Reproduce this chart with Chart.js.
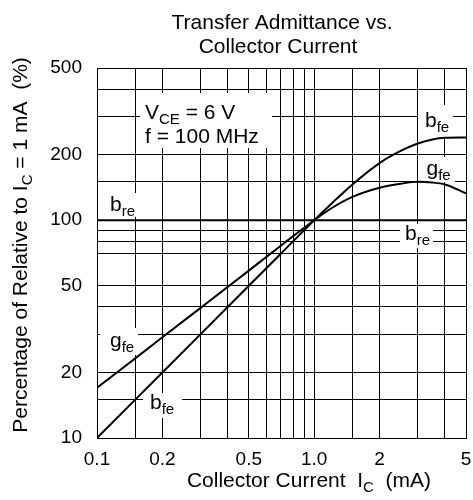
<!DOCTYPE html>
<html>
<head>
<meta charset="utf-8">
<script src="https://cdn.jsdelivr.net/npm/chart.js@4.4.1/dist/chart.umd.min.js"></script>
<style>
  html, body { margin: 0; padding: 0; background: #fff; }
  canvas { display: block; }
</style>
</head>
<body>
<canvas id="chart" width="473" height="500"></canvas>
<script>
// collector current (mA) and percentage relative to Ic = 1 mA
const current = [0.1, 0.15, 0.2, 0.3, 0.5, 0.7, 1.0, 1.2, 1.5, 2, 2.5, 3, 3.5, 4, 5];
const bfe = [10, 15, 20, 30, 50, 70, 100, 119, 146, 183, 208, 225, 235, 239, 240];
const gfe = [17, 23.2, 29, 39.6, 58.7, 76.2, 100, 113.5, 128, 141, 147, 150, 149, 146, 133];
const breCurrent = [0.1, 5];
const bre = [100, 100];

// grid lines and tick labels
const xGrid = [0.1, 0.15, 0.2, 0.3, 0.4, 0.5, 0.6, 0.7, 0.8, 0.9, 1, 1.5, 2, 3, 4, 5];
const xLabels = { 0.1: '0.1', 0.2: '0.2', 0.5: '0.5', 1: '1.0', 2: '2', 5: '5' };
const yGrid = [10, 15, 20, 30, 40, 50, 70, 80, 90, 100, 150, 200, 300, 400, 500];
const yLabels = [10, 20, 50, 100, 200, 500];

const FONT = "'Liberation Sans', Arial, sans-serif";

const toPoints = (xs, ys) => xs.map((x, i) => ({ x: x, y: ys[i] }));

// draws text with subscript parts, returns width
function drawParts(ctx, parts, x, y, size, align) {
  const subSize = Math.round(size * 0.72);
  let total = 0;
  parts.forEach(p => {
    ctx.font = (p[1] ? subSize : size) + 'px ' + FONT;
    total += ctx.measureText(p[0]).width;
  });
  let cx = x;
  if (align === 'center') cx = x - total / 2;
  ctx.textAlign = 'left';
  ctx.textBaseline = 'alphabetic';
  parts.forEach(p => {
    ctx.font = (p[1] ? subSize : size) + 'px ' + FONT;
    ctx.fillText(p[0], cx, p[1] ? y + 5 : y);
    cx += ctx.measureText(p[0]).width;
  });
  return total;
}

const textPlugin = {
  id: 'texts',
  beforeDatasetsDraw(chart) {
    const ctx = chart.ctx;
    ctx.save();
    // white backgrounds that break the grid behind labels
    ctx.fillStyle = '#fff';
    [[140, 93, 132, 55], [418, 105, 35, 34], [420, 157, 35, 25], [400, 224, 33, 24],
     [105, 193, 32, 24], [100, 328, 38, 27], [143, 393, 39, 25]].forEach(r => ctx.fillRect(r[0], r[1], r[2], r[3]));
    ctx.fillStyle = '#000';
    drawParts(ctx, [['V', 0], ['CE', 1], [' = 6 V', 0]], 145, 119, 21);
    drawParts(ctx, [['f = 100 MHz', 0]], 145, 142.5, 21);
    drawParts(ctx, [['b', 0], ['fe', 1]], 425, 126.5, 21);
    drawParts(ctx, [['g', 0], ['fe', 1]], 426.5, 174.5, 21);
    drawParts(ctx, [['b', 0], ['re', 1]], 405, 240, 21);
    drawParts(ctx, [['b', 0], ['re', 1]], 110, 210.5, 21);
    drawParts(ctx, [['g', 0], ['fe', 1]], 110, 346.5, 21);
    drawParts(ctx, [['b', 0], ['fe', 1]], 150, 409, 21);
    ctx.restore();
  },
  afterDraw(chart) {
    const ctx = chart.ctx;
    ctx.save();
    ctx.fillStyle = '#000';
    drawParts(ctx, [['Transfer Admittance vs.', 0]], 282, 28.5, 21, 'center');
    drawParts(ctx, [['Collector Current', 0]], 278, 52.5, 21, 'center');
    drawParts(ctx, [['Collector Current  I', 0], ['C', 1], ['  (mA)', 0]], 309, 486.5, 21, 'center');
    ctx.translate(27, 245);
    ctx.rotate(-Math.PI / 2);
    drawParts(ctx, [['Percentage of Relative to I', 0], ['C', 1], [' = 1 mA  (%)', 0]], 0, 0, 21, 'center');
    ctx.restore();
  }
};

const noPad = scale => {
  scale.paddingTop = 0;
  scale.paddingBottom = 0;
  scale.paddingLeft = 0;
  scale.paddingRight = 0;
};

const lineStyle = {
  borderColor: '#000',
  borderWidth: 2,
  pointRadius: 0,
  fill: false,
  cubicInterpolationMode: 'monotone'
};

new Chart(document.getElementById('chart').getContext('2d'), {
  type: 'line',
  data: {
    datasets: [
      Object.assign({ label: 'bfe', data: toPoints(current, bfe) }, lineStyle),
      Object.assign({ label: 'gfe', data: toPoints(current, gfe) }, lineStyle),
      Object.assign({ label: 'bre', data: toPoints(breCurrent, bre) }, lineStyle)
    ]
  },
  options: {
    responsive: false,
    animation: false,
    layout: { padding: { left: 0, top: 68, right: 7, bottom: 0 } },
    plugins: {
      legend: { display: false },
      tooltip: { enabled: false },
      title: { display: false }
    },
    scales: {
      x: {
        type: 'logarithmic',
        min: 0.1,
        max: 5,
        afterBuildTicks: scale => { scale.ticks = xGrid.map(v => ({ value: v })); },
        afterFit: scale => { scale.height = 62; noPad(scale); },
        grid: { color: '#000', lineWidth: 1, drawTicks: false },
        border: { color: '#000', width: 1 },
        ticks: {
          autoSkip: false,
          maxRotation: 0,
          padding: 10,
          color: '#000',
          font: { family: FONT, size: 19 },
          callback: v => xLabels[v] || ''
        }
      },
      y: {
        type: 'logarithmic',
        min: 10,
        max: 500,
        afterBuildTicks: scale => { scale.ticks = yGrid.map(v => ({ value: v })); },
        afterFit: scale => { scale.width = 97; noPad(scale); },
        grid: { color: '#000', lineWidth: 1, drawTicks: false },
        border: { color: '#000', width: 1 },
        ticks: {
          autoSkip: false,
          padding: 15,
          color: '#000',
          font: { family: FONT, size: 19 },
          callback: v => yLabels.includes(v) ? String(v) : ''
        }
      }
    }
  },
  plugins: [textPlugin]
});
</script>
</body>
</html>
